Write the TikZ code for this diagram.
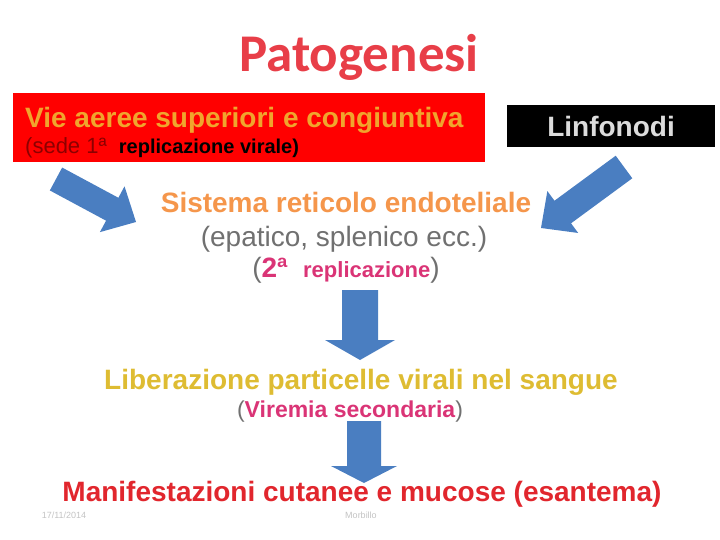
\documentclass[tikz,border=0pt]{standalone}
\usepackage{fontspec}
\setmainfont{Liberation Sans}
\newfontfamily\titlefont{Carlito}
\usetikzlibrary{calc}
\definecolor{titlered}{RGB}{232,62,72}
\definecolor{boxred}{RGB}{255,0,0}
\definecolor{lineone}{RGB}{240,165,45}
\definecolor{sedered}{RGB}{140,0,0}
\definecolor{linfgray}{RGB}{220,220,220}
\definecolor{arrowblue}{RGB}{74,126,193}
\definecolor{sisorange}{RGB}{245,150,75}
\definecolor{midgray}{RGB}{112,112,112}
\definecolor{magent}{RGB}{218,52,118}
\definecolor{libyellow}{RGB}{222,188,50}
\definecolor{manred}{RGB}{225,38,45}
\definecolor{footgray}{RGB}{195,195,195}
\newcommand\blockarrow[6]{%
  \coordinate (#1h) at ($(#3)!#6!(#2)$);
  \fill[arrowblue] ($(#2)!#4!90:(#3)$) -- ($(#1h)!#4!90:(#3)$) -- ($(#1h)!#5!90:(#3)$)
    -- (#3) -- ($(#1h)!#5!-90:(#3)$) -- ($(#1h)!#4!-90:(#3)$) -- ($(#2)!#4!-90:(#3)$) -- cycle;}
\tikzset{
  txt/.style={inner sep=0pt, anchor=base},
  big/.style={font=\fontsize{28}{33}\selectfont\bfseries},
}
\begin{document}
\begin{tikzpicture}[x=1pt,y=-1pt]
\useasboundingbox (0,0) rectangle (720,540);
% title
\node[txt, text=titlered, font=\titlefont\fontsize{53}{60}\selectfont\bfseries] (title) at (359,72) {Patogenesi};
% red box
\node[fill=boxred, minimum width=472pt, minimum height=69pt, inner sep=0pt, anchor=north west] (redbox) at (13,93) {};
\node[txt, anchor=base west, big, text=lineone] (vie) at (25,128) {Vie aeree superiori e congiuntiva};
\node[txt, anchor=base west] (sede) at (25,154) {\fontsize{22}{26}\selectfont\color{sedered}(sede 1ª\ \ \fontsize{20}{24}\selectfont\bfseries\color{black}replicazione virale)};
% black box
\node[fill=black, minimum width=208pt, minimum height=42pt, inner sep=0pt, anchor=north west] (blackbox) at (507,105) {};
\node[txt, big, text=linfgray] (linf) at (611,137) {Linfonodi};
% arrows
\coordinate (la1) at (56,179);
\coordinate (la2) at (136,222);
\blockarrow{la}{la1}{la2}{13pt}{26pt}{27pt}
\coordinate (ra1) at (624,167);
\coordinate (ra2) at (541,228);
\blockarrow{ra}{ra1}{ra2}{14pt}{26pt}{27pt}
\coordinate (da1) at (360,290);
\coordinate (da2) at (360,360);
\blockarrow{da}{da1}{da2}{18pt}{35pt}{20pt}
\coordinate (db1) at (364,421);
\coordinate (db2) at (364,483);
\blockarrow{db}{db1}{db2}{17pt}{33pt}{17pt}
% central texts
\node[txt, big, text=sisorange] (sis) at (346,213) {Sistema reticolo endoteliale};
\node[txt, text=midgray, font=\fontsize{28}{33}\selectfont] (epa) at (344,246) {(epatico, splenico ecc.)};
\node[txt] (rep2) at (346,277) {\fontsize{28}{33}\selectfont\color{midgray}(\bfseries\color{magent}2ª\ \ \fontsize{22}{26}\selectfont replicazione\fontsize{28}{33}\selectfont\mdseries\color{midgray})};
\node[txt, big, text=libyellow] (lib) at (361,389) {Liberazione particelle virali nel sangue};
\node[txt] (vir) at (350,417) {\fontsize{23}{27}\selectfont\color{midgray}(\bfseries\color{magent}Viremia secondaria\mdseries\color{midgray})};
\node[txt, big, text=manred] (man) at (362,501) {Manifestazioni cutanee e mucose (esantema)};
% footer
\node[txt, text=footgray, font=\fontsize{9}{11}\selectfont] (date) at (64,518) {17/11/2014};
\node[txt, text=footgray, font=\fontsize{9}{11}\selectfont] (foot) at (361,518) {Morbillo};
\end{tikzpicture}
\end{document}
